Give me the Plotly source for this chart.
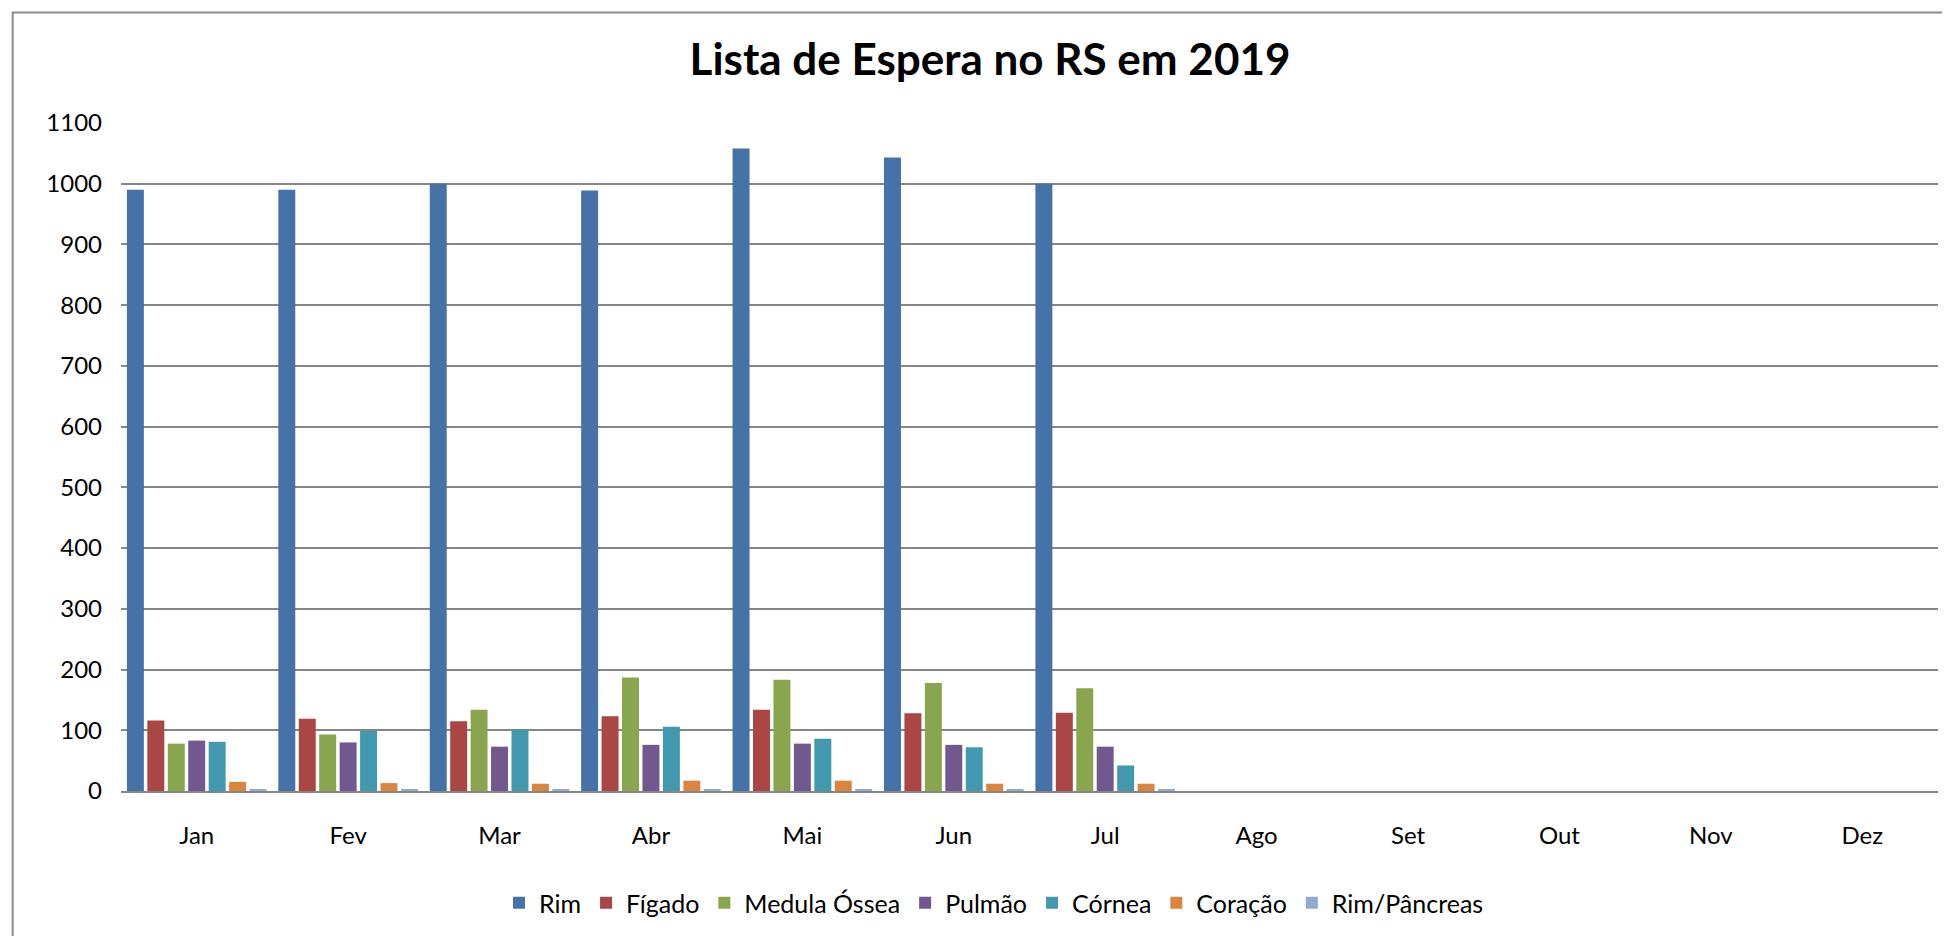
import plotly.graph_objects as go

months = ["Jan", "Fev", "Mar", "Abr", "Mai", "Jun", "Jul", "Ago", "Set", "Out", "Nov", "Dez"]

rim = [990, 990, 1000, 989, 1058, 1043, 1000, None, None, None, None, None]
figado = [116, 119, 115, 123, 134, 128, 129, None, None, None, None, None]
medula = [78, 93, 134, 187, 183, 178, 169, None, None, None, None, None]
pulmao = [83, 80, 73, 76, 78, 76, 73, None, None, None, None, None]
cornea = [81, 99, 101, 106, 86, 72, 42, None, None, None, None, None]
coracao = [15, 13, 12, 17, 17, 12, 12, None, None, None, None, None]
rim_pancreas = [3, 3, 3, 3, 3, 3, 2, None, None, None, None, None]

series = [
    ("Rim", rim, "#4572A7"),
    ("Fígado", figado, "#AA4643"),
    ("Medula Óssea", medula, "#89A54E"),
    ("Pulmão", pulmao, "#71588F"),
    ("Córnea", cornea, "#4198AF"),
    ("Coração", coracao, "#DB843D"),
    ("Rim/Pâncreas", rim_pancreas, "#93A9CF"),
]

FONT = "Lato, Carlito, Calibri, sans-serif"

fig = go.Figure()
for name, vals, color in series:
    fig.add_trace(go.Bar(x=months, y=vals, name=name, marker=dict(color=color, line=dict(width=0))))

# page is offset by the 8px body margin; positions below are in figure coordinates
OFF = 8
W, H = 1950, 936
L = 121 - OFF
T = 123 - OFF
R = W - (1938 - OFF)
B = H - (791 - OFF)
pw, ph = W - L - R, H - T - B

def px_x(px):
    return (px - OFF - L) / pw

def px_y(py):
    return (H - B - (py - OFF)) / ph

fig.update_layout(
    width=W, height=H,
    margin=dict(l=L, r=R, t=T, b=B),
    paper_bgcolor="white", plot_bgcolor="white",
    barmode="group", bargap=0.055, bargroupgap=0.17,
    font=dict(family=FONT, size=24, color="black"),
    title=dict(text="<b>Lista de Espera no RS em 2019</b>", x=(990 - OFF) / W, xref="container", xanchor="center",
               y=1 - (60 - OFF) / H, yref="container", yanchor="middle",
               font=dict(family=FONT, size=44, color="black")),
    legend=dict(orientation="h", xref="container", x=(994 - OFF) / W, xanchor="center",
                yref="container", y=1 - (903 - OFF) / H, yanchor="middle",
                font=dict(family=FONT, size=25), itemwidth=30, traceorder="normal"),
    showlegend=True,
    shapes=[dict(type="rect", xref="paper", yref="paper",
                 x0=px_x(12.7), x1=px_x(1975), y0=px_y(960), y1=px_y(12.5),
                 line=dict(color="#8c8c8c", width=2), fillcolor="rgba(0,0,0,0)", layer="above")],
)
fig.update_yaxes(range=[0, 1100], dtick=100, showgrid=True, gridcolor="#868686", gridwidth=1.8,
                 zeroline=False, showline=False, ticks="", ticklabelstandoff=18,
                 tickfont=dict(family=FONT, size=24))
fig.update_xaxes(showline=True, linecolor="#868686", linewidth=2, ticks="", ticklabelstandoff=22,
                 tickfont=dict(family=FONT, size=24), showgrid=False)

fig.write_html("out.html")
